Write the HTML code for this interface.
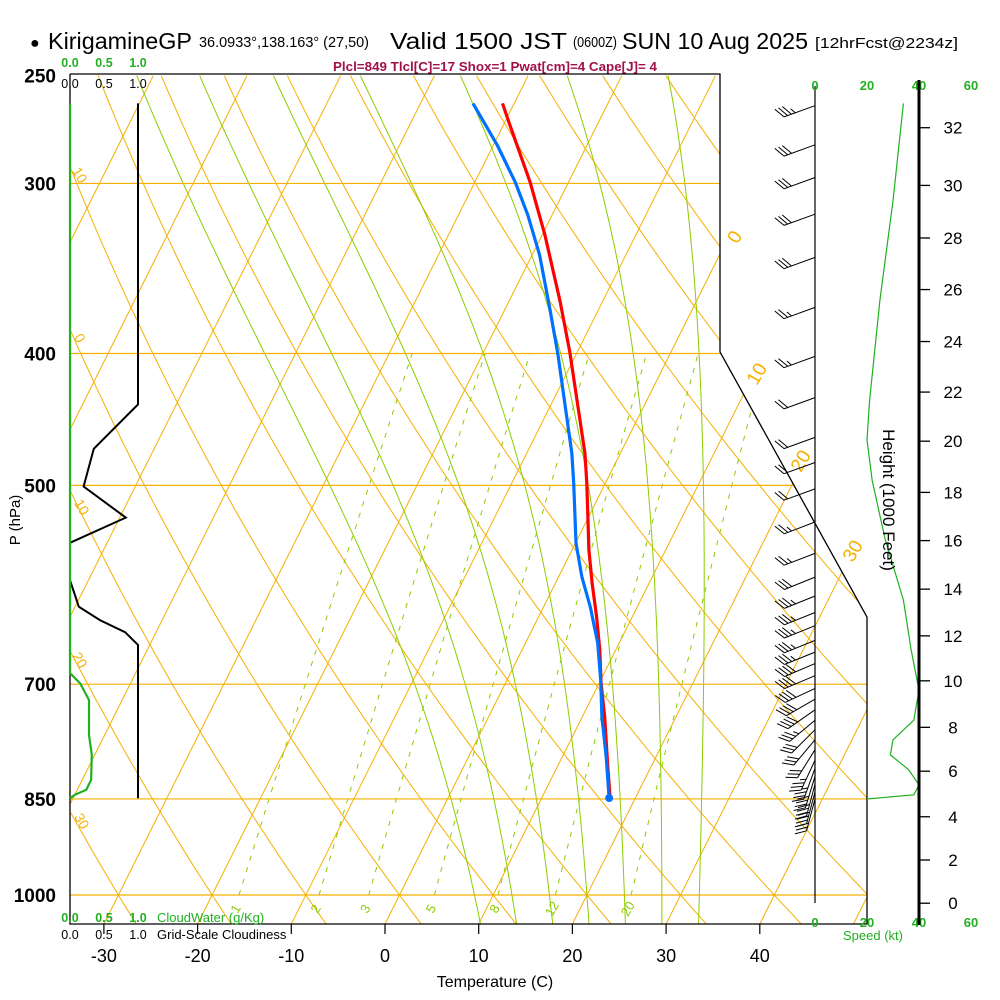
<!DOCTYPE html>
<html><head><meta charset="utf-8"><style>
html,body{margin:0;padding:0;background:#fff;}
svg{display:block;font-family:"Liberation Sans",Arial,sans-serif;}
</style></head><body>
<svg id="chart" width="1000" height="1000" viewBox="0 0 1000 1000" xmlns="http://www.w3.org/2000/svg">
<defs><clipPath id="plotclip"><polygon points="70,74 720,74 720,352 867,617 867,924 70,924"/></clipPath></defs>
<rect x="0" y="0" width="1000" height="1000" fill="#fff"/>
<g id="title">
<text x="30" y="48" font-size="16">●</text>
<text x="48" y="49" font-size="23" textLength="144" lengthAdjust="spacingAndGlyphs">KirigamineGP</text>
<text x="199" y="47" font-size="14.5" textLength="170" lengthAdjust="spacingAndGlyphs">36.0933°,138.163° (27,50)</text>
<text x="390" y="49" font-size="23" textLength="177" lengthAdjust="spacingAndGlyphs">Valid 1500 JST</text>
<text x="573" y="47" font-size="14.5" textLength="44" lengthAdjust="spacingAndGlyphs">(0600Z)</text>
<text x="622" y="49" font-size="23" textLength="186" lengthAdjust="spacingAndGlyphs">SUN 10 Aug 2025</text>
<text x="815" y="48" font-size="15" textLength="143" lengthAdjust="spacingAndGlyphs">[12hrFcst@2234z]</text>
</g>
<text x="333" y="71" font-size="12.5" font-weight="bold" fill="#a0104a" textLength="324" lengthAdjust="spacingAndGlyphs">Plcl=849 Tlcl[C]=17 Shox=1 Pwat[cm]=4 Cape[J]= 4</text>
<g id="bg" clip-path="url(#plotclip)"></g>
<g id="fg"></g>
</svg>
<script>
// ---- data ----
const pressureLevels = [250, 300, 400, 500, 700, 850, 1000];
const isotherms = [-110,-100,-90,-80,-70,-60,-50,-40,-30,-20,-10,0,10,20,30,40,50];
const dryAdiabats = [-40,-30,-20,-10,0,10,20,30,40,50,60,70,80,90,100,110,120,130,140];
const moistAdiabats = [8,12,16,20,24,28,32];
const mixingRatios = [1,2,3,5,8,12,20];
const tempTicks = [-30,-20,-10,0,10,20,30,40];
const tempP = [262,271.8,299.3,327.3,366.6,399,473.4,498,557.8,589.8,624.7,660.6,698.6,740,805.2,848.7];
const tempC = [-31.25,-29.3,-24.1,-19.7,-14.5,-10.8,-3.8,-2.0,1.8,3.9,6.2,8.3,10.2,12.4,15.4,17.3];
const dewP = [262,281.1,299.3,316.4,338.6,370.3,401,473.4,498,551.2,583.9,614.3,652.8,695,740,791.8,848.7];
const dewC = [-34.4,-29.6,-25.7,-22.6,-19.2,-15.3,-11.9,-5.2,-3.4,0.05,2.5,5.0,7.7,10.0,12.1,14.7,17.2];
const cloudP = [262,436,470,501,528,551,587,614,628,641,655,849];
const cloudFrac = [1,1,0.35,0.2,0.82,0,0,0.13,0.44,0.81,1,1];
const cwP = [262,687,699,719,763,789,823,837,844,849];
const cwVal = [0,0,0.15,0.28,0.28,0.32,0.31,0.24,0.07,0];
const barbP = [263,281,297,316,340,370,402,431,461,481,503,532,561,584,603,620,634,650,663,676,690,705,718,731,744,756,769,782,796,807,818,829,840,850];
const barbDir = [250,250,250,250,250,250,250,250,250,250,250,249,249,248,248,248,248,248,248,247,247,245,240,235,230,225,220,212,205,200,197,195,195,195];
const barbSpd = [33,32,31,30,28,26,23,21,20,20,21,24,27,30,33,35,36,37,37,38,40,40,39,38,36,32,30,30,34,36,38,40,38,30];
const speedP = [262,309,365,433,463,496,548,607,661,707,744,769,789,809,830,844,850];
const speedKt = [34,30,25,21,20,22,27,34,37,40,38,30,29,36,40,38,20];
const heightKft = [0,2,4,6,8,10,12,14,16,18,20,22,24,26,28,30,32];
const heightP = [1014,942.5,876,811,753,696,645,596,549,506,464,427,392,359,329,301,273];
const speedTicks = [0,20,40,60];

// ---- axes ----
function yP(p){ return 895 - 591*Math.log(1000/p); }
function xT(T,p){ return 385 + 9.37*T + 0.5*(924 - yP(p)); }
function xSpd(k){ return 815 + 2.6*k; }
function xCloud(v){ return 70 + 68*v; }
const NS='http://www.w3.org/2000/svg';
const bg=document.getElementById('bg'), fg=document.getElementById('fg');
function mk(tag, attrs, parent){ const e=document.createElementNS(NS,tag); for(const k in attrs) e.setAttribute(k,attrs[k]); parent.appendChild(e); return e; }
function pathFrom(pts){ return 'M'+pts.map(q=>q[0].toFixed(1)+','+q[1].toFixed(1)).join('L'); }
const PTOP=250, PBOT=1050;
function pRange(p0,p1,n){ const a=[]; for(let i=0;i<=n;i++){ a.push(p0*Math.pow(p1/p0,i/n)); } return a; }

// isotherms
isotherms.forEach(T=>{
  const e=mk('line',{x1:xT(T,PBOT),y1:yP(PBOT),x2:xT(T,PTOP),y2:yP(PTOP),stroke:'#f5b000','stroke-width':1},bg);
  
  
});
// dry adiabats
dryAdiabats.forEach(th=>{
  const pts=pRange(PBOT,PTOP,60).map(p=>{ const T=(th+273.15)*Math.pow(p/1000,0.2857)-273.15; return [xT(T,p),yP(p)]; });
  const e=mk('path',{d:pathFrom(pts),fill:'none',stroke:'#f5b000','stroke-width':1},bg);
  
  
});
// moist adiabats
function es(T){ return 6.112*Math.exp(17.67*T/(T+243.5)); }
function dTdp(T,p){ const Tk=T+273.15, e=es(T), rs=0.622*e/(p-e), L=2.5e6, Rd=287, Cp=1004;
  return (Rd*Tk + L*rs)/(p*(Cp + L*L*rs*0.622/(Rd*Tk*Tk))); }
moistAdiabats.forEach(tw=>{
  let pts=[]; let T=tw, p=1000;
  const up=[[xT(T,p),yP(p)]];
  while(p>PTOP){ const dp=-5; const k1=dTdp(T,p), k2=dTdp(T+k1*dp/2,p+dp/2); T+=k2*dp; p+=dp; up.push([xT(T,p),yP(p)]); }
  T=tw; p=1000; const dn=[];
  while(p<PBOT){ const dp=5; const k1=dTdp(T,p), k2=dTdp(T+k1*dp/2,p+dp/2); T+=k2*dp; p+=dp; dn.push([xT(T,p),yP(p)]); }
  pts=dn.reverse().concat(up);
  const e=mk('path',{d:pathFrom(pts),fill:'none',stroke:'#8ccc00','stroke-width':1},bg);
  
  
});
// mixing ratio
function tdFromW(w,p){ const e=w*p/(622+w); const l=Math.log(e/6.112); return 243.5*l/(17.67-l); }
mixingRatios.forEach(w=>{
  const pts=pRange(1000,400,30).map(p=>[xT(tdFromW(w,p),p),yP(p)]);
  const e=mk('path',{d:pathFrom(pts),fill:'none',stroke:'#8ccc00','stroke-width':1,'stroke-dasharray':'5,7'},bg);
  
  
  const t=mk('text',{x:xT(tdFromW(w,1000),1000)-3,y:913,'font-size':13,fill:'#8ccc00','text-anchor':'middle',transform:'rotate(-60 '+(xT(tdFromW(w,1000),1000)-3)+' 909)'},bg);
  t.textContent=w;
  
  
});
// pressure lines
pressureLevels.forEach(p=>{
  if(p===250) return;
  const e=mk('line',{x1:70,y1:yP(p),x2:870,y2:yP(p),stroke:'#f5b000','stroke-width':1.2},bg);
  
  
});
// isotherm labels (right)
[[0,735,243],[10,757,380],[20,801,467],[30,853,557]].forEach(a=>{
  const t=mk('text',{x:a[1],y:a[2],'font-size':19,fill:'#f5b000','text-anchor':'middle',transform:'rotate(-60 '+a[1]+' '+(a[2]-6)+')'},fg);
  t.textContent=a[0];
  
  
});
[['10',80,180],['0',80,343],['10',82,512],['20',80,665],['30',82,826]].forEach((a,i)=>{
  const t=mk('text',{x:a[1],y:a[2],'font-size':14,fill:'#f5b000','text-anchor':'middle',transform:'rotate(60 '+a[1]+' '+(a[2]-5)+')'},fg);
  t.textContent=a[0];
  
  
});

// plot border
let b=mk('polyline',{points:'70,74 720,74 720,352 867,617 867,924 70,924 70,74',fill:'none',stroke:'#000','stroke-width':1.3},fg);



// wind staff line and barbs
b=mk('line',{x1:815,y1:86,x2:815,y2:903,stroke:'#000','stroke-width':1.2},fg);


barbP.forEach((p,i)=>{
  const d=barbDir[i]*Math.PI/180, ax=815, ay=yP(p), L=33;
  const ux=Math.sin(d), uy=-Math.cos(d);
  const tx=ax+ux*L, ty=ay+uy*L;
  const c=Math.cos(Math.PI/3), s=Math.sin(Math.PI/3);
  const fx=ux*c-uy*s, fy=ux*s+uy*c;
  let dstr='M'+ax+','+ay.toFixed(1)+'L'+tx.toFixed(1)+','+ty.toFixed(1);
  let spd=Math.round(barbSpd[i]/5)*5, pos=0;
  while(spd>=10){ const bx=tx-ux*pos, by=ty-uy*pos; dstr+='M'+bx.toFixed(1)+','+by.toFixed(1)+'l'+(fx*12).toFixed(1)+','+(fy*12).toFixed(1); spd-=10; pos+=4; }
  if(spd>=5){ const bx=tx-ux*pos, by=ty-uy*pos; dstr+='M'+bx.toFixed(1)+','+by.toFixed(1)+'l'+(fx*6).toFixed(1)+','+(fy*6).toFixed(1); }
  const e=mk('path',{d:dstr,fill:'none',stroke:'#000','stroke-width':1},fg);
  
  
});
// speed profile
b=mk('path',{d:pathFrom(speedP.map((p,i)=>[xSpd(speedKt[i]),yP(p)])),fill:'none',stroke:'#20b020','stroke-width':1.2},fg);


speedTicks.forEach(k=>{
  [85,922].forEach((yy,j)=>{
    const t=mk('text',{x:xSpd(k),y:yy+5,'font-size':13,'font-weight':'bold',fill:'#20b020','text-anchor':'middle'},fg);
    t.textContent=k;
    
    
  });
});
b=mk('text',{x:873,y:940,'font-size':13,fill:'#20b020','text-anchor':'middle'},fg);
b.textContent='Speed (kt)';



// height axis
b=mk('line',{x1:919,y1:80,x2:919,y2:925,stroke:'#000','stroke-width':3},fg);


heightKft.forEach((h,i)=>{
  const y=yP(heightP[i]);
  const l=mk('line',{x1:919,y1:y,x2:930,y2:y,stroke:'#000','stroke-width':1.3},fg);
  
  
  const t=mk('text',{x:953,y:y+6,'font-size':17,'text-anchor':'middle'},fg);
  t.textContent=h;
  
  
});
b=mk('text',{x:883,y:500,'font-size':17,'text-anchor':'middle',transform:'rotate(90 883 500)'},fg);
b.textContent='Height (1000 Feet)';



// pressure labels
pressureLevels.forEach(p=>{
  const t=mk('text',{x:56,y:yP(p)+7,'font-size':19,'font-weight':'bold','text-anchor':'end'},fg);
  t.textContent=p;
  
  
});
b=mk('text',{x:20,y:520,'font-size':15,'text-anchor':'middle',transform:'rotate(-90 20 520)'},fg);
b.textContent='P (hPa)';



// temperature ticks
tempTicks.forEach(T=>{
  const x=385+9.37*T;
  const l=mk('line',{x1:x,y1:924,x2:x,y2:934,stroke:'#000','stroke-width':1.2},fg);
  
  
  const t=mk('text',{x:x,y:962,'font-size':18,'text-anchor':'middle'},fg);
  t.textContent=T;
  
  
});
b=mk('text',{x:495,y:987,'font-size':16,'text-anchor':'middle'},fg);
b.textContent='Temperature (C)';



// cloud panel labels
[[67,'#20b020','top-cloudwater'],[88,'#000','top-cloudiness'],[922,'#20b020','bottom-cloudwater'],[939,'#000','bottom-cloudiness']].forEach(a=>{
  ['0.0','0.5','1.0'].forEach((s,j)=>{
    const t=mk('text',{x:[70,104,138][j],y:a[0],'font-size':12.5,'font-weight':(a[1]==='#000'?'normal':'bold'),fill:a[1],'text-anchor':'middle'},fg);
    t.textContent=s;
    
    
  });
});
b=mk('text',{x:157,y:922,'font-size':13,fill:'#20b020'},fg);
b.textContent='CloudWater (g/Kg)';


b=mk('text',{x:157,y:939,'font-size':13},fg);
b.textContent='Grid-Scale Cloudiness';


b=mk('path',{d:pathFrom(cloudP.map((p,i)=>[xCloud(cloudFrac[i]),yP(p)])),fill:'none',stroke:'#000','stroke-width':2},fg);


b=mk('path',{d:pathFrom(cwP.map((p,i)=>[xCloud(cwVal[i]),yP(p)])),fill:'none',stroke:'#20b020','stroke-width':2.2},fg);



// profiles
b=mk('path',{d:pathFrom(tempP.map((p,i)=>[xT(tempC[i],p),yP(p)])),fill:'none',stroke:'#ff0000','stroke-width':3.2,'stroke-linejoin':'round'},fg);


b=mk('path',{d:pathFrom(dewP.map((p,i)=>[xT(dewC[i],p),yP(p)])),fill:'none',stroke:'#0070ff','stroke-width':3.2,'stroke-linejoin':'round'},fg);


const lp=dewP[dewP.length-1], lt=dewC[dewC.length-1];
b=mk('circle',{cx:xT(lt,lp),cy:yP(lp),r:4,fill:'#0070ff'},fg);


</script>
</body></html>
